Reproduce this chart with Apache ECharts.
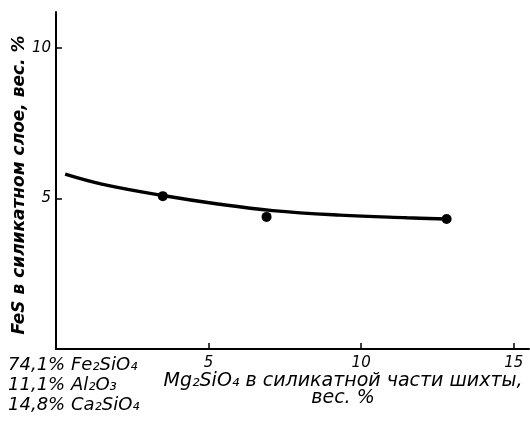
<!DOCTYPE html>
<html>
<head>
<meta charset="utf-8">
<script src="https://cdn.jsdelivr.net/npm/echarts@6/dist/echarts.min.js"></script>
<style>
  html, body { margin: 0; padding: 0; background: #fff; }
  #chart { width: 530px; height: 428px; }
</style>
</head>
<body>
<div id="chart"></div>
<script>
// Measured points: Mg2SiO4 in the silicate part of the charge vs FeS in the silicate layer
const pointsX = [3.5, 6.9, 12.8];
const pointsY = [5.08, 4.39, 4.32];

// Fitted curve through the measurements
const curveX = [0.3, 1.5, 3.5, 5.3, 7.1, 9.3, 11.5, 12.8];
const curveY = [5.81, 5.48, 5.1, 4.82, 4.6, 4.45, 4.36, 4.32];

const xTicks = [5, 10, 15];
const yTicks = [5, 10];

const compositionLines = ['74,1% Fe₂SiO₄', '11,1% Al₂O₃', '14,8% Ca₂SiO₄'];

const FONT = 'DejaVu Sans';
const INK = '#000';

const chart = echarts.init(document.getElementById('chart'));

const axisCommon = {
  axisLine: { show: true, lineStyle: { color: INK, width: 2 } },
  splitLine: { show: false },
  axisTick: { show: true, inside: true, length: 6, lineStyle: { color: INK, width: 1.5 } },
  axisLabel: { color: INK, fontFamily: FONT, fontStyle: 'italic', fontSize: 15 }
};

chart.setOption({
  animation: false,
  backgroundColor: '#fff',
  grid: { left: 56, right: 1, top: 12, bottom: 79 },
  xAxis: {
    type: 'value', min: 0, max: 15.5, interval: 5,
    axisLine: axisCommon.axisLine,
    splitLine: axisCommon.splitLine,
    axisTick: Object.assign({}, axisCommon.axisTick, { customValues: xTicks }),
    axisLabel: Object.assign({}, axisCommon.axisLabel, { customValues: xTicks, margin: 7 })
  },
  yAxis: {
    type: 'value', min: 0, max: 11.2, interval: 5,
    axisLine: axisCommon.axisLine,
    splitLine: axisCommon.splitLine,
    axisTick: Object.assign({}, axisCommon.axisTick, { customValues: yTicks }),
    axisLabel: Object.assign({}, axisCommon.axisLabel, { customValues: yTicks, margin: 5 })
  },
  series: [
    {
      type: 'line',
      data: curveX.map((x, i) => [x, curveY[i]]),
      smooth: 0.4,
      showSymbol: false,
      lineStyle: { color: INK, width: 3.4 }
    },
    {
      type: 'scatter',
      data: pointsX.map((x, i) => [x, pointsY[i]]),
      symbol: 'circle',
      symbolSize: 10,
      itemStyle: { color: INK, opacity: 1 }
    }
  ],
  graphic: [
    {
      type: 'text',
      x: 20, y: 185, rotation: Math.PI / 2,
      style: {
        text: 'FeS в силикатном слое, вес. %',
        fill: INK, font: 'italic bold 17px "' + FONT + '"',
        align: 'center', verticalAlign: 'middle'
      }
    },
    {
      type: 'text',
      x: 343, y: 381,
      style: {
        text: 'Mg₂SiO₄ в силикатной части шихты,',
        fill: INK, font: 'italic 19px "' + FONT + '"',
        align: 'center', verticalAlign: 'middle'
      }
    },
    {
      type: 'text',
      x: 343, y: 398,
      style: {
        text: 'вес. %',
        fill: INK, font: 'italic 19px "' + FONT + '"',
        align: 'center', verticalAlign: 'middle'
      }
    }
  ].concat(compositionLines.map((t, i) => ({
    type: 'text',
    x: 8, y: 365 + i * 20,
    style: {
      text: t,
      fill: INK, font: 'italic 18px "' + FONT + '"',
      align: 'left', verticalAlign: 'middle'
    }
  })))
});
</script>
</body>
</html>
